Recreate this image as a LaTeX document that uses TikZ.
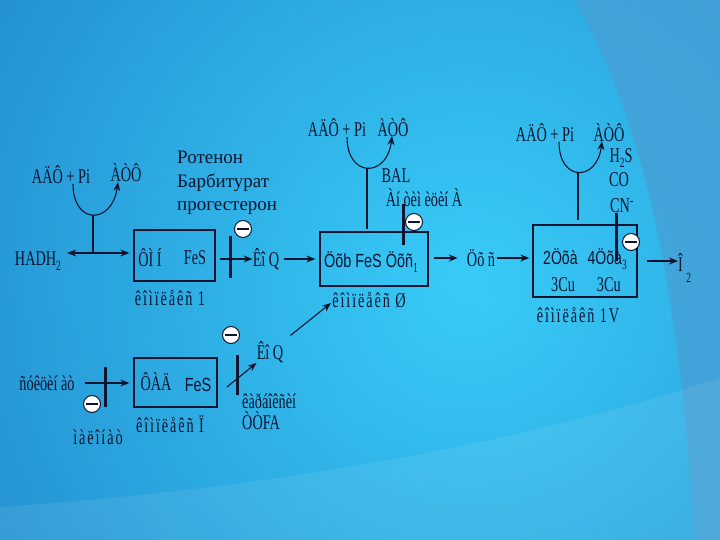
\documentclass[tikz,border=0pt]{standalone}
\usepackage{fontspec}
\setmainfont{Liberation Serif}
\newfontfamily\cond[FakeStretch=0.68]{Liberation Serif}
\newfontfamily\condsp[FakeStretch=0.68,LetterSpace=9]{Liberation Serif}
\newfontfamily\condsans[FakeStretch=0.76]{Liberation Sans}
\newfontfamily\condsanst[FakeStretch=0.74]{Liberation Sans}
\usetikzlibrary{arrows.meta}
\definecolor{ink}{RGB}{12,20,48}
\definecolor{bgdark}{RGB}{22,104,182}
\definecolor{bgcyan}{RGB}{56,204,248}
\definecolor{bgright}{RGB}{70,160,214}
\newcommand{\lowsub}[1]{\raisebox{-5pt}{\fontsize{14}{14}\selectfont #1}}
\begin{document}
\begin{tikzpicture}[x=1pt,y=-1pt,
  lab/.style={font=\cond\fontsize{21}{23}\selectfont, text=ink, inner sep=0pt},
  labsp/.style={font=\condsp\fontsize{21}{23}\selectfont, text=ink, inner sep=0pt},
  slab/.style={font=\condsans\fontsize{19}{21}\selectfont, text=ink, inner sep=0pt},
  tlab/.style={font=\condsanst\fontsize{19}{21}\selectfont, text=ink, inner sep=0pt},
  cbox/.style={draw=ink, line width=1.3pt, inner sep=0pt},
  conn/.style={draw=ink, line width=1.1pt},
  arr/.style={conn, -{Stealth[length=9pt,width=7pt]}},
  dblarr/.style={conn, {Stealth[length=9pt,width=7pt]}-{Stealth[length=9pt,width=7pt]}},
  inhib/.style={draw=ink, line width=3pt},
  minusdot/.style={circle, draw=ink, fill=white, line width=1pt, minimum size=17pt, inner sep=0pt,
    path picture={\draw[ink, line width=1.8pt] ([xshift=-6pt]path picture bounding box.center) -- ([xshift=6pt]path picture bounding box.center);}}
]
% background
\begin{scope}
\clip (0,0) rectangle (720,540);
\fill[bgdark] (0,0) rectangle (720,540);
\shade[inner color=bgcyan, outer color=bgdark] (470,285) circle (940);
\fill[bgright, opacity=0.8] (575,0) .. controls (630,100) and (675,230) .. (695,540) -- (720,540) -- (720,0) -- cycle;
\fill[white, opacity=0.08] (0,507) .. controls (250,490) and (500,450) .. (720,378) -- (720,540) -- (0,540) -- cycle;
\end{scope}
\useasboundingbox (0,0) rectangle (720,540);

% ---------- complex I ----------
\node[lab] (atp1) at (61,175) {AÄÔ + Pi};
\node[lab] (adp1) at (126,173) {ÀÒÔ};
\coordinate (c1s) at (73,184);
\coordinate (c1e) at (118,182);
\coordinate (c1b) at (93,215);
\coordinate (j1) at (93,253);
\draw[arr] (c1s) .. controls (73,225) and (112,225) .. (c1e);
\draw[conn] (c1b) -- (j1);
\node[lab] (hadh) at (38,261) {HADH\lowsub{2}};
\node[cbox, minimum width=81pt, minimum height=51pt] (b1) at (174.5,255.5) {};
\draw[dblarr, shorten <=6pt, shorten >=4pt] (hadh.east |- j1) -- (b1.west |- j1);
\node[lab] (t1a) at (150,258) {ÔÌ\,Í};
\node[lab] (t1b) at (195,258) {FeS};
\node[labsp] (l1) at (170,298) {êîìïëåêñ 1};
\node[font=\fontsize{19}{23.5}\selectfont, text=ink, align=left, anchor=north west, inner sep=0pt] (rot) at (177,151) {Ротенон\\Барбитурат\\прогестерон};
\node[lab] (kq1) at (266,259) {Êî\,Q};
\draw[arr, shorten <=4pt] (b1.east |- kq1.west) -- (kq1.west);
\coordinate (i1a) at (230,236);
\coordinate (i1b) at (230,278);
\draw[inhib] (i1a) -- (i1b);
\node[minusdot] (m1) at (243,229) {};

% ---------- complex III ----------
\node[cbox, minimum width=108pt, minimum height=54pt] (b3) at (374,259) {};
\node[slab] (t3) at (371,262) {Öõb FeS Öõñ\lowsub{\cond 1}};
\node[labsp] (l3) at (369,300) {êîìïëåêñ Ø};
\draw[arr, shorten <=5pt, shorten >=4pt] (kq1.east) -- (b3.west |- kq1.east);
\node[lab] (atp3) at (337,128) {AÄÔ + Pi};
\node[lab] (adp3) at (393,128) {ÀÒÔ};
\coordinate (c3s) at (347,137);
\coordinate (c3e) at (392,136);
\coordinate (c3b) at (367,168);
\coordinate (c3d) at (367,229);
\draw[arr] (c3s) .. controls (347,178) and (387,178) .. (c3e);
\draw[conn] (c3b) -- (c3d);
\node[lab] (bal) at (396,176) {BAL};
\node[lab] (anti) at (424,198) {Àí\,òèì\,èöèí À};
\coordinate (i3a) at (403,204);
\coordinate (i3b) at (403,245);
\draw[inhib] (i3a) -- (i3b);
\node[minusdot] (m3) at (414,222) {};
\node[lab] (cytc) at (481,258) {Öõ\,ñ};
\draw[arr, shorten <=5pt, shorten >=9pt] (b3.east |- cytc.west) -- (cytc.west);

% ---------- complex IV ----------
\node[cbox, minimum width=104pt, minimum height=72pt] (b4) at (585,261) {};
\node[tlab] (t4a) at (585,259) {2Öõà\hspace{10pt}4Öõà\lowsub{\cond 3}};
\node[lab] (t4b) at (586,285) {3Cu\hspace{22pt}3Cu};
\node[labsp] (l4) at (578,315) {êîìïëåêñ 1V};
\draw[arr, shorten <=2pt, shorten >=3pt] (cytc.east) -- (b4.west |- cytc.east);
\node[lab] (atp4) at (545,133) {AÄÔ + Pi};
\node[lab] (adp4) at (609,133) {ÀÒÔ};
\coordinate (c4s) at (559,142);
\coordinate (c4e) at (602,141);
\coordinate (c4b) at (578,172);
\coordinate (c4d) at (578,220);
\draw[arr] (c4s) .. controls (559,182) and (597,182) .. (c4e);
\draw[conn] (c4b) -- (c4d);
\node[lab] (h2s) at (621,158) {H\lowsub{2}S};
\node[lab] (co) at (619,180) {CO};
\node[lab] (cn) at (622,206) {CN\textsuperscript{-}};
\coordinate (i4a) at (616,213);
\coordinate (i4b) at (616,261);
\draw[inhib] (i4a) -- (i4b);
\node[minusdot] (m4) at (631,242) {};
\node[lab, anchor=base west] (o2) at (678,271) {Î\,\raisebox{-11pt}{\fontsize{14}{14}\selectfont 2}};
\draw[arr, shorten <=9pt] (b4.east) -- (b4.east -| o2.west);

% ---------- complex II ----------
\node[lab] (succ) at (47,383) {ñóêöèí\,àò};
\node[cbox, minimum width=83pt, minimum height=49pt] (b2) at (175.5,382.5) {};
\draw[arr, shorten <=10pt, shorten >=4pt] (succ.east) -- (b2.west |- succ.east);
\coordinate (i2a) at (105,367);
\coordinate (i2b) at (105,407);
\draw[inhib] (i2a) -- (i2b);
\node[minusdot] (m2) at (92,404) {};
\node[labsp] (mal) at (98,437) {ìàëîíàò};
\node[lab] (t2a) at (156,382) {ÔÀÄ};
\node[slab] (t2b) at (198,385) {FeS};
\node[labsp] (l2) at (170,424) {êîìïëåêñ Ï};
\coordinate (i5a) at (237,355);
\coordinate (i5b) at (237,395);
\draw[inhib] (i5a) -- (i5b);
\node[minusdot] (m5) at (231,335) {};
\node[lab] (kq2) at (270,352) {Êî\,Q};
\coordinate (a2s) at (227,387);
\draw[arr] (a2s) -- (kq2.south west);
\coordinate (a3e) at (331,303);
\draw[arr, shorten <=9pt] (kq2.north east) -- (a3e);
\node[lab, anchor=west] (carb) at (242,401) {êàðáîêñèí};
\node[lab, anchor=west] (ttfa) at (242,421) {ÒÒFA};
\end{tikzpicture}
\end{document}
